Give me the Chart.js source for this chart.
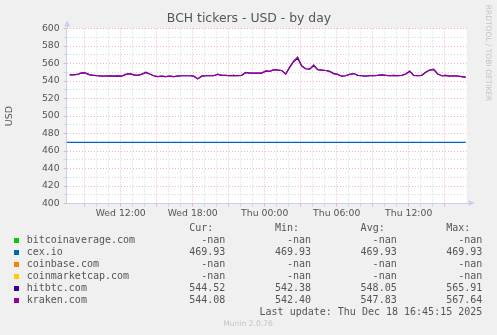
<!DOCTYPE html>
<html>
<head>
<meta charset="utf-8">
<title>BCH tickers - USD - by day</title>
<script src="https://cdn.jsdelivr.net/npm/chart.js@4.4.1/dist/chart.umd.min.js"></script>
<style>
  html, body { margin: 0; padding: 0; background: #f0f0f0; }
  canvas { display: block; }
</style>
</head>
<body>
<canvas id="chart" width="497" height="335"></canvas>
<script>
// Samples every 20 minutes, Wed 07:45 -> Thu 16:45 (hours counted from Wed 00:00)
const firstSample = 7.75;
const sampleStep = 1 / 3;

const kraken = [
    547, 547, 547.5, 549.5, 549, 547, 546.5, 546, 545.5, 545.5,
    545.8, 545.5, 545.8, 545.5, 547.5, 548.5, 547, 546.5, 547.5, 549.5,
    548, 546, 545, 545.5, 545, 545.5, 545, 545.5, 546, 546,
    546, 545.5, 542.5, 545.5, 546, 546, 546, 547.8, 546.5, 546.5,
    546, 546.5, 546, 546.5, 549.5, 549, 549, 549, 549, 551.5,
    551, 553, 552.5, 552, 548, 556, 563, 567.5, 557, 554,
    553.5, 558.5, 553, 552.5, 552, 551, 548.5, 547.5, 545.5, 546,
    547.5, 548.5, 546.5, 546, 545.5, 546, 546, 546.5, 547, 546.5,
    546, 546.5, 546, 546.5, 548, 551.5, 546.5, 546, 546.5, 550,
    552.5, 553.5, 548, 546, 546.5, 545.5, 546, 545.5, 545, 544.1
];
const hitbtc = [
    547, 547.2, 547.5, 549.3, 549, 547, 546.5, 546, 545.5, 545.7,
    545.8, 545.5, 545.8, 545.5, 547.5, 548.5, 547, 546.5, 547.8, 550,
    548, 546, 545, 545.5, 545, 545.5, 545, 545.5, 546, 546,
    546, 545.5, 542.4, 545.5, 546, 546, 546, 547.5, 546.5, 546.5,
    546, 546.5, 546, 546.5, 549.8, 549, 549, 549, 549, 551.3,
    551, 552.8, 552.5, 552, 548, 555.5, 562, 565.9, 557, 554,
    553.5, 557.5, 553, 552.5, 552, 551, 548.5, 547.5, 545.5, 546,
    547.5, 548.5, 546.5, 546, 545.5, 546, 546, 546.5, 547, 546.5,
    546, 546.5, 546, 546.5, 548, 551, 546.5, 546, 546.5, 550,
    552.5, 553, 548, 546, 546.5, 545.5, 546, 545.5, 545, 544.5
];
const cexHours = [7.5, 40.75];
const cexio = [469.93, 469.93];

const sources = ['bitcoinaverage.com', 'cex.io', 'coinbase.com', 'coinmarketcap.com', 'hitbtc.com', 'kraken.com'];
const sourceColors = ['#00CC00', '#0066B3', '#FF8000', '#FFCC00', '#330099', '#990099'];
const curValues = ['-nan', '469.93', '-nan', '-nan', '544.52', '544.08'];
const minValues = ['-nan', '469.93', '-nan', '-nan', '542.38', '542.40'];
const avgValues = ['-nan', '469.93', '-nan', '-nan', '548.05', '547.83'];
const maxValues = ['-nan', '469.93', '-nan', '-nan', '565.91', '567.64'];

const xTickHours = [12, 18, 24, 30, 36];
const xTickNames = ['Wed 12:00', 'Wed 18:00', 'Thu 00:00', 'Thu 06:00', 'Thu 12:00'];

const textColor = '#555555';
const axisColor = '#c8cff2';
const majorGrid = 'rgba(240, 130, 130, 0.6)';
const minorGrid = '#d6d6d6';

function toPoints(values) {
    return values.map((v, i) => ({ x: firstSample + i * sampleStep, y: v }));
}

// Munin style decorations: background, arrows, title, legend table
const muninDecor = {
    id: 'muninDecor',
    beforeDraw(chart) {
        const { ctx, chartArea: a } = chart;
        ctx.save();
        ctx.fillStyle = '#f0f0f0';
        ctx.fillRect(0, 0, chart.width, chart.height);
        ctx.fillStyle = '#ffffff';
        ctx.fillRect(a.left, a.top, a.right - a.left, a.bottom - a.top);
        ctx.restore();
    },
    afterDraw(chart) {
        const { ctx, chartArea: a } = chart;
        ctx.save();

        // axis extensions + arrows
        ctx.strokeStyle = axisColor;
        ctx.fillStyle = axisColor;
        ctx.lineWidth = 1;
        ctx.beginPath();
        ctx.moveTo(Math.round(a.left) + 0.5, a.top);
        ctx.lineTo(Math.round(a.left) + 0.5, a.top - 4);
        ctx.moveTo(a.right, Math.round(a.bottom) - 0.5);
        ctx.lineTo(a.right + 3, Math.round(a.bottom) - 0.5);
        ctx.stroke();
        ctx.beginPath();
        ctx.moveTo(a.left + 0.5, a.top - 8);
        ctx.lineTo(a.left - 2.5, a.top - 2);
        ctx.lineTo(a.left + 3.5, a.top - 2);
        ctx.closePath();
        ctx.fill();
        ctx.beginPath();
        ctx.moveTo(a.right + 8, a.bottom - 0.5);
        ctx.lineTo(a.right + 2, a.bottom - 3.5);
        ctx.lineTo(a.right + 2, a.bottom + 2.5);
        ctx.closePath();
        ctx.fill();

        // title
        ctx.fillStyle = textColor;
        ctx.textBaseline = 'middle';
        ctx.textAlign = 'center';
        ctx.font = '12.4px "DejaVu Sans"';
        ctx.fillText('BCH tickers - USD - by day', 249, 19);

        // vertical axis title
        ctx.save();
        ctx.translate(10, (a.top + a.bottom) / 2);
        ctx.rotate(-Math.PI / 2);
        ctx.font = '9.5px "DejaVu Sans"';
        ctx.fillText('USD', 0, 0);
        ctx.restore();

        // watermark
        ctx.save();
        ctx.translate(488, 53);
        ctx.rotate(Math.PI / 2);
        ctx.fillStyle = '#c4c4c4';
        ctx.font = '7.5px "DejaVu Sans"';
        ctx.fillText('RRDTOOL / TOBI OETIKER', 0, 0);
        ctx.restore();

        // legend table
        const cols = [225.3, 311, 396.7, 482.3];
        const heads = ['Cur:', 'Min:', 'Avg:', 'Max:'];
        const tables = [curValues, minValues, avgValues, maxValues];
        ctx.font = '10px "DejaVu Sans Mono"';
        ctx.textAlign = 'right';
        heads.forEach((h, c) => ctx.fillText(h, cols[c] - 12, 228));
        sources.forEach((name, i) => {
            const y = 240 + i * 12;
            ctx.fillStyle = sourceColors[i];
            ctx.fillRect(14, y - 2, 5, 5);
            ctx.fillStyle = textColor;
            ctx.textAlign = 'left';
            ctx.fillText(name, 26.7, y);
            ctx.textAlign = 'right';
            tables.forEach((t, c) => ctx.fillText(t[i], cols[c], y));
        });
        ctx.fillText('Last update: Thu Dec 18 16:45:15 2025', 482.3, 312);

        ctx.textAlign = 'center';
        ctx.fillStyle = '#c4c4c4';
        ctx.font = '7.6px "DejaVu Sans"';
        ctx.fillText('Munin 2.0.76', 248, 324);
        ctx.restore();
    }
};

const ctx = document.getElementById('chart').getContext('2d');
new Chart(ctx, {
    type: 'line',
    data: {
        datasets: [
            { label: 'bitcoinaverage.com', data: [], borderColor: sourceColors[0], order: 5 },
            {
                label: 'cex.io',
                data: cexio.map((v, i) => ({ x: cexHours[i], y: v })),
                borderColor: sourceColors[1],
                borderWidth: 1.3,
                order: 2
            },
            { label: 'coinbase.com', data: [], borderColor: sourceColors[2], order: 4 },
            { label: 'coinmarketcap.com', data: [], borderColor: sourceColors[3], order: 3 },
            {
                label: 'hitbtc.com',
                data: toPoints(hitbtc),
                borderColor: sourceColors[4],
                borderWidth: 1.2,
                order: 1
            },
            {
                label: 'kraken.com',
                data: toPoints(kraken),
                borderColor: sourceColors[5],
                borderWidth: 1.2,
                order: 0
            }
        ]
    },
    options: {
        responsive: false,
        animation: false,
        devicePixelRatio: 1,
        elements: { point: { radius: 0 }, line: { tension: 0 } },
        layout: { padding: { left: 0, top: 28.5, right: 30.3, bottom: 111.5 } },
        plugins: {
            legend: { display: false },
            tooltip: { enabled: false }
        },
        scales: {
            x: {
                type: 'linear',
                min: 7.5,
                max: 40 + 50 / 60,
                afterFit: scale => { scale.height = 20; },
                border: { color: axisColor, width: 1, dash: [1, 2] },
                grid: {
                    color: c => {
                        const v = c.tick.value;
                        if (!Number.isInteger(v)) return 'rgba(0,0,0,0)';
                        return v % 3 === 0 ? majorGrid : minorGrid;
                    },
                    tickLength: 3
                },
                ticks: {
                    stepSize: 1,
                    maxTicksLimit: 100,
                    autoSkip: false,
                    maxRotation: 0,
                    padding: 2,
                    color: textColor,
                    font: { family: 'DejaVu Sans', size: 9.3 },
                    callback: v => {
                        const k = xTickHours.indexOf(v);
                        return k >= 0 ? xTickNames[k] : '';
                    }
                }
            },
            y: {
                min: 400,
                max: 600,
                afterFit: scale => { scale.width = 66.7; },
                border: { color: axisColor, width: 1, dash: [1, 2] },
                grid: {
                    color: c => (c.tick.value % 20 === 0 ? majorGrid : minorGrid),
                    tickLength: 3
                },
                ticks: {
                    stepSize: 10,
                    maxTicksLimit: 100,
                    autoSkip: false,
                    padding: 4,
                    color: textColor,
                    font: { family: 'DejaVu Sans', size: 9.3 },
                    callback: v => (v % 20 === 0 ? String(v) : '')
                }
            }
        }
    },
    plugins: [muninDecor]
});
</script>
</body>
</html>
